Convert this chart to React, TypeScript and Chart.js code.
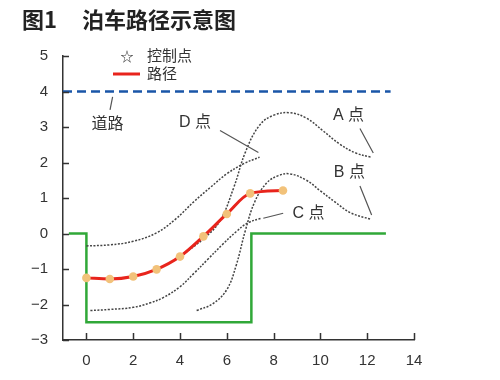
import React, { useEffect, useRef } from "react";
import { Chart, registerables } from "chart.js";

Chart.register(...registerables);

// ---- axis ticks ----
const X_TICKS = [0, 2, 4, 6, 8, 10, 12, 14];
const Y_TICKS = [-3, -2, -1, 0, 1, 2, 3, 4, 5];

// ---- parking path (control points) ----
const PATH_X = [0, 1, 2, 3, 4, 5, 6, 7, 8.4];
const PATH_Y = [-1.25, -1.28, -1.21, -1.01, -0.65, -0.08, 0.55, 1.13, 1.21];

// ---- road line ----
const ROAD_X = [-1, 13];
const ROAD_Y = [4, 4];

// ---- parking slot outline ----
const SLOT_X = [-0.75, 0, 0, 7.05, 7.05, 12.8];
const SLOT_Y = [0, 0, -2.5, -2.5, 0, 0];

// ---- trajectories of corner points A, B, C, D ----
const A_X = [4, 5, 5.7, 6.3, 6.8, 7.4, 8.0, 8.7, 9.4, 10.1, 10.8, 11.5, 12.15];
const A_Y = [-0.65, -0.15, 0.35, 1.3, 2.3, 3.05, 3.33, 3.4, 3.25, 2.9, 2.53, 2.27, 2.15];

const B_X = [4.71, 5.4, 6.0, 6.4, 6.8, 7.2, 7.7, 8.2, 8.7, 9.4, 10.0, 10.6, 11.3, 12.15];
const B_Y = [-2.17, -1.98, -1.58, -0.9, 0.1, 0.9, 1.42, 1.63, 1.68, 1.5, 1.2, 0.9, 0.58, 0.4];

const C_X = [0.17, 1, 2, 2.7, 3.3, 4.0, 4.6, 5.2, 5.8, 6.4, 6.9, 7.47];
const C_Y = [-2.17, -2.14, -2.08, -1.96, -1.8, -1.5, -1.12, -0.72, -0.32, 0.05, 0.3, 0.43];

const D_X = [0, 1, 2, 3, 3.8, 4.6, 5.3, 6.0, 6.7, 7.4];
const D_Y = [-0.35, -0.32, -0.22, 0.02, 0.4, 0.9, 1.3, 1.68, 1.96, 2.15];

// ---- annotation texts (data coordinates) ----
const NOTE_TEXT = ["道路", "D 点", "A 点", "B 点", "C 点"];
const NOTE_X = [0.9, 4.64, 11.2, 11.24, 9.49];
const NOTE_Y = [3.06, 3.13, 3.31, 1.71, 0.57];
const LEADER_X1 = [1.12, 5.71, 11.69, 11.69, 8.41];
const LEADER_Y1 = [3.85, 2.9, 2.96, 1.34, 0.57];
const LEADER_X2 = [1.01, 7.35, 12.26, 12.19, 7.56];
const LEADER_Y2 = [3.48, 2.28, 2.27, 0.52, 0.43];

const TITLE_A = "图1";
const TITLE_B = "泊车路径示意图";
const LEGEND_TEXT = ["控制点", "路径"];

const FONT_FAMILY = '"Liberation Sans", "Noto Sans CJK SC", sans-serif';
const TEXT_COLOR = "#333";
const AXIS_COLOR = "#333";

const pts = (xs: number[], ys: number[]) => xs.map((x, i) => ({ x, y: ys[i] }));

const overlayPlugin = {
  id: "overlay",
  afterDraw(chart: any) {
    const ctx: CanvasRenderingContext2D = chart.ctx;
    const xs = chart.scales.x;
    const ys = chart.scales.y;
    const area = chart.chartArea;
    ctx.save();

    // inside tick marks
    ctx.strokeStyle = AXIS_COLOR;
    ctx.lineWidth = 1.5;
    ctx.beginPath();
    X_TICKS.forEach((v) => {
      const px = Math.round(xs.getPixelForValue(v)) + 0.5;
      ctx.moveTo(px, area.bottom);
      ctx.lineTo(px, area.bottom - 7);
    });
    Y_TICKS.forEach((v) => {
      const py = Math.round(ys.getPixelForValue(v)) + 0.5;
      ctx.moveTo(area.left, py);
      ctx.lineTo(area.left + 6, py);
    });
    ctx.stroke();

    // title
    ctx.fillStyle = "#222";
    ctx.font = 'bold 22px "Noto Sans CJK SC", "Liberation Sans", sans-serif';
    ctx.textAlign = "left";
    ctx.textBaseline = "middle";
    ctx.fillText(TITLE_A, 22, 20);
    ctx.fillText(TITLE_B, 82, 20);

    // legend
    ctx.fillStyle = TEXT_COLOR;
    ctx.font = "13px " + FONT_FAMILY;
    ctx.textAlign = "center";
    ctx.fillText("☆", 127, 57);
    ctx.font = "15px " + FONT_FAMILY;
    ctx.textAlign = "left";
    ctx.fillText(LEGEND_TEXT[0], 147, 57);
    ctx.fillText(LEGEND_TEXT[1], 147, 75);
    ctx.strokeStyle = "#E8241C";
    ctx.lineWidth = 3;
    ctx.beginPath();
    ctx.moveTo(113, 74);
    ctx.lineTo(140, 74);
    ctx.stroke();

    // annotations
    ctx.font = "16px " + FONT_FAMILY;
    ctx.textAlign = "center";
    ctx.fillStyle = TEXT_COLOR;
    NOTE_TEXT.forEach((t, i) => {
      ctx.fillText(t, xs.getPixelForValue(NOTE_X[i]), ys.getPixelForValue(NOTE_Y[i]));
    });
    ctx.strokeStyle = "#555";
    ctx.lineWidth = 1.2;
    ctx.beginPath();
    NOTE_TEXT.forEach((_, i) => {
      ctx.moveTo(xs.getPixelForValue(LEADER_X1[i]), ys.getPixelForValue(LEADER_Y1[i]));
      ctx.lineTo(xs.getPixelForValue(LEADER_X2[i]), ys.getPixelForValue(LEADER_Y2[i]));
    });
    ctx.stroke();

    ctx.restore();
  },
};

const dottedCurve = (xs: number[], ys: number[]) => ({
  data: pts(xs, ys),
  borderColor: "#444",
  borderWidth: 1.5,
  borderDash: [2, 1.5],
  pointRadius: 0,
  tension: 0.4,
  fill: false,
});

export default function App() {
  const ref = useRef<HTMLCanvasElement | null>(null);

  useEffect(() => {
    if (!ref.current) return;
    const chart = new Chart(ref.current, {
      type: "line",
      data: {
        datasets: [
          {
            data: pts(PATH_X, PATH_Y),
            borderColor: "#E8241C",
            borderWidth: 3,
            pointRadius: 4.3,
            pointBackgroundColor: "#F2C27A",
            pointBorderWidth: 0,
            cubicInterpolationMode: "monotone",
            fill: false,
          },
          dottedCurve(A_X, A_Y),
          dottedCurve(B_X, B_Y),
          dottedCurve(C_X, C_Y),
          dottedCurve(D_X, D_Y),
          {
            data: pts(SLOT_X, SLOT_Y),
            borderColor: "#30A838",
            borderWidth: 2.5,
            pointRadius: 0,
            tension: 0,
            fill: false,
          },
          {
            data: pts(ROAD_X, ROAD_Y),
            borderColor: "#1A56A8",
            borderWidth: 2.5,
            borderDash: [9, 5],
            pointRadius: 0,
            tension: 0,
            fill: false,
          },
        ] as any,
      },
      options: {
        responsive: false,
        animation: false,
        layout: { padding: { top: 56, right: 86, bottom: 0, left: 0 } },
        plugins: { legend: { display: false }, tooltip: { enabled: false }, title: { display: false } },
        scales: {
          x: {
            type: "linear",
            min: -1,
            max: 14,
            afterBuildTicks: (s: any) => {
              s.ticks = X_TICKS.map((v) => ({ value: v }));
            },
            afterFit: (s: any) => {
              s.height = 40;
            },
            ticks: {
              autoSkip: false,
              maxRotation: 0,
              padding: 12,
              color: TEXT_COLOR,
              font: { family: FONT_FAMILY, size: 15 },
              callback: (v: any) => String(v).replace("-", "−"),
            },
            grid: { display: false, drawTicks: false },
            border: { display: true, color: AXIS_COLOR, width: 1.5 },
          },
          y: {
            type: "linear",
            min: -3,
            max: 5,
            afterBuildTicks: (s: any) => {
              s.ticks = Y_TICKS.map((v) => ({ value: v }));
            },
            afterFit: (s: any) => {
              s.width = 63;
            },
            ticks: {
              autoSkip: false,
              padding: 15,
              color: TEXT_COLOR,
              font: { family: FONT_FAMILY, size: 15 },
              callback: (v: any) => String(v).replace("-", "−"),
            },
            grid: { display: false, drawTicks: false },
            border: { display: true, color: AXIS_COLOR, width: 1.5 },
          },
        },
      },
      plugins: [overlayPlugin],
    });
    return () => chart.destroy();
  }, []);

  return (
    <div style={{ position: "absolute", left: 0, top: 0, width: 500, height: 380, background: "#fff" }}>
      <canvas ref={ref} width={500} height={380} />
    </div>
  );
}
